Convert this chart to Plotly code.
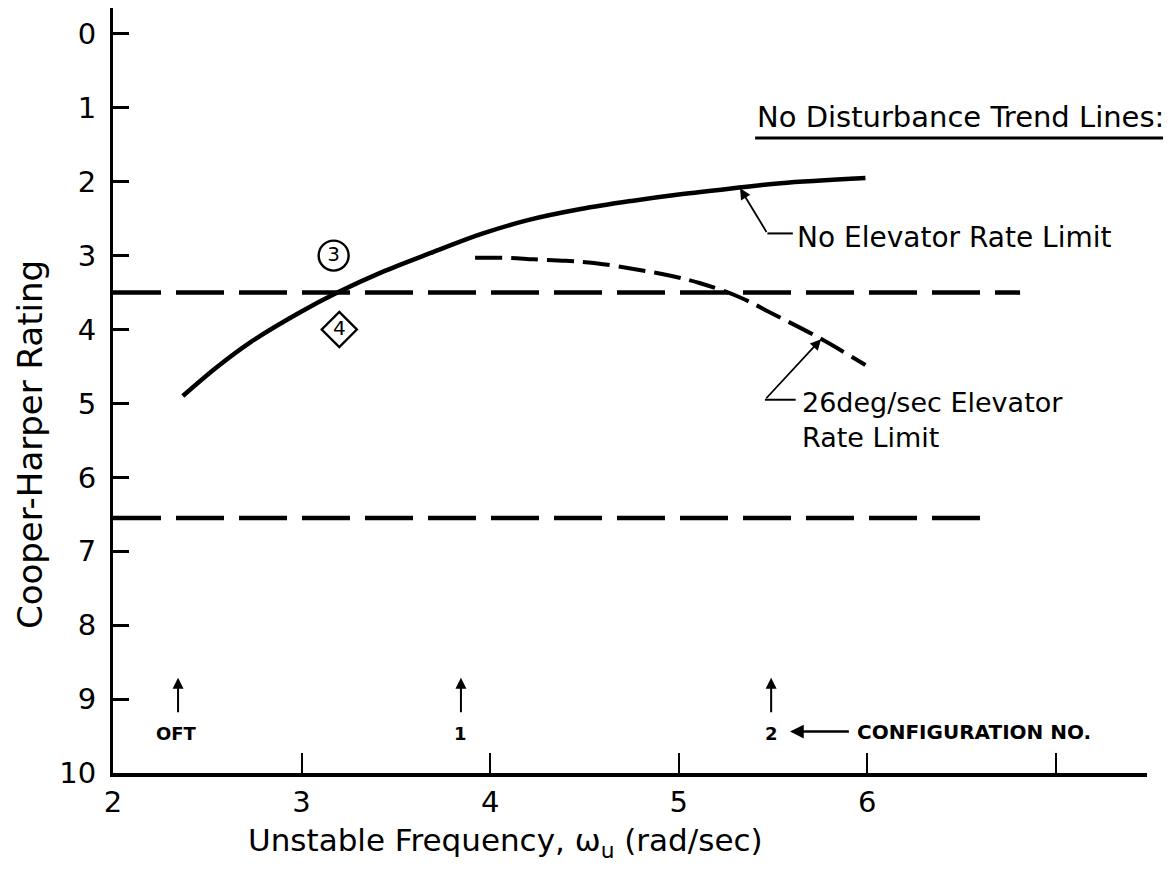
import plotly.graph_objects as go

# ---- data ----
solid_x = [2.37, 2.55, 2.73, 2.99, 3.19, 3.42, 3.70, 3.95, 4.20, 4.48, 4.75, 5.01, 5.32, 5.54, 5.99]
solid_y = [4.90, 4.51, 4.17, 3.77, 3.50, 3.23, 2.95, 2.71, 2.52, 2.37, 2.26, 2.17, 2.08, 2.02, 1.95]

rate_x = [3.92, 4.10, 4.23, 4.40, 4.55, 4.76, 4.95, 5.11, 5.32, 5.50, 5.75, 5.99]
rate_y = [3.03, 3.03, 3.05, 3.07, 3.10, 3.18, 3.27, 3.37, 3.56, 3.79, 4.12, 4.48]

boundary_levels = [3.5, 6.55]
boundary_ends = [6.81, 6.61]

pilot_x = [3.17, 3.20]
pilot_y = [3.0, 4.0]
pilot_labels = ["3", "4"]
pilot_symbols = ["circle-open", "diamond-open"]

config_x = [2.335, 3.845, 5.49]
config_labels = ["OFT", "1", "2"]

x_ticks = [2, 3, 4, 5, 6, 7]
x_ticktext = ["2", "3", "4", "5", "6", ""]
y_ticks = list(range(0, 11))

FONT = "DejaVu Sans"
fig = go.Figure()

# boundary dashed lines
for lvl, xe in zip(boundary_levels, boundary_ends):
    fig.add_trace(go.Scatter(x=[2, xe], y=[lvl, lvl], mode="lines",
                             line=dict(color="black", width=4.5, dash="48px,15px"),
                             showlegend=False, hoverinfo="skip"))

fig.add_trace(go.Scatter(x=solid_x, y=solid_y, mode="lines",
                         line=dict(color="black", width=4.5, shape="spline", smoothing=1.0),
                         showlegend=False))
fig.add_trace(go.Scatter(x=rate_x, y=rate_y, mode="lines",
                         line=dict(color="black", width=4, shape="spline", dash="27px,9px"),
                         showlegend=False))

for px_, py_, lab, sym in zip(pilot_x, pilot_y, pilot_labels, pilot_symbols):
    fig.add_trace(go.Scatter(x=[px_], y=[py_], mode="markers+text", text=[lab],
                             textposition="middle center",
                             textfont=dict(family=FONT, size=20, color="black"),
                             marker=dict(symbol=sym, size=30 if sym.startswith("circle") else 27,
                                         color="black", line=dict(width=2.4, color="black")),
                             showlegend=False))

annotations = []
# configuration arrows and labels
for cx, cl in zip(config_x, config_labels):
    annotations.append(dict(x=cx + (0.01 if cl == "OFT" else 0), y=8.71, xref="x", yref="y", text="",
                            showarrow=True, ax=0, ay=36, arrowhead=2, arrowsize=1.1,
                            arrowwidth=2, arrowcolor="black"))
    annotations.append(dict(x=cx, y=9.46, xref="x", yref="y", text="<b>%s</b>" % cl,
                            showarrow=False, font=dict(family=FONT, size=18, color="black")))
annotations.append(dict(x=5.59, y=9.44, xref="x", yref="y", text="", showarrow=True,
                        ax=5.91, ay=9.44, axref="x", ayref="y", arrowhead=2, arrowsize=1.1,
                        arrowwidth=2.5, arrowcolor="black"))
annotations.append(dict(x=5.935, y=9.44, xref="x", yref="y", text="<b>CONFIGURATION NO.</b>",
                        xanchor="left", showarrow=False,
                        font=dict(family=FONT, size=20, color="black")))

# trend line labels
annotations.append(dict(x=0.621, y=1.125, xref="paper", yref="y", text="No Disturbance Trend Lines:",
                        xanchor="left", yanchor="middle", showarrow=False,
                        font=dict(family=FONT, size=29, color="black")))
annotations.append(dict(x=5.616, y=2.75, xref="x", yref="y", text="No Elevator Rate Limit",
                        xanchor="left", yanchor="middle", showarrow=False,
                        font=dict(family=FONT, size=28, color="black")))
annotations.append(dict(x=5.325, y=2.09, xref="x", yref="y", text="", showarrow=True,
                        ax=5.47, ay=2.70, axref="x", ayref="y", arrowhead=2, arrowsize=1.2,
                        arrowwidth=1.8, arrowcolor="black"))
annotations.append(dict(x=5.643, y=5.22, xref="x", yref="y",
                        text="26deg/sec Elevator<br>Rate Limit", align="left",
                        xanchor="left", yanchor="middle", showarrow=False,
                        font=dict(family=FONT, size=27, color="black")))
annotations.append(dict(x=5.755, y=4.13, xref="x", yref="y", text="", showarrow=True,
                        ax=5.457, ay=4.95, axref="x", ayref="y", arrowhead=2, arrowsize=1.2,
                        arrowwidth=1.8, arrowcolor="black"))

# axis titles
annotations.append(dict(x=0.380, y=-0.0915, xref="paper", yref="paper",
                        text="Unstable Frequency, ω<sub>u</sub> (rad/sec)",
                        showarrow=False, xanchor="center", yanchor="middle",
                        font=dict(family=FONT, size=31, color="black")))
annotations.append(dict(x=-0.080, y=0.429, xref="paper", yref="paper",
                        text="Cooper-Harper Rating", textangle=-90,
                        showarrow=False, xanchor="center", yanchor="middle",
                        font=dict(family=FONT, size=34, color="black")))

shapes = [
    # underline of the heading
    dict(type="line", xref="paper", yref="paper", x0=0.621, x1=1.0155, y0=0.830, y1=0.830,
         line=dict(color="black", width=3)),
    # leader elbows
    dict(type="line", xref="x", yref="y", x0=5.47, x1=5.605, y0=2.70, y1=2.70,
         line=dict(color="black", width=2)),
    dict(type="line", xref="x", yref="y", x0=5.457, x1=5.62, y0=4.95, y1=4.95,
         line=dict(color="black", width=2)),
]

fig.update_layout(
    width=1164, height=862,
    margin=dict(l=105, r=25, t=0, b=97),
    paper_bgcolor="white", plot_bgcolor="white",
    font=dict(family=FONT, color="black"),
    annotations=annotations, shapes=shapes,
    showlegend=False,
)
fig.update_xaxes(range=[2, 7.483], tickvals=x_ticks, ticktext=x_ticktext,
                 showline=True, linecolor="black", linewidth=4,
                 ticks="inside", ticklen=20, tickwidth=2, tickcolor="black",
                 showgrid=False, zeroline=False, ticklabelstandoff=0,
                 tickfont=dict(family=FONT, size=29, color="black"))
fig.update_yaxes(range=[10, -0.35], tickvals=y_ticks,
                 showline=True, linecolor="black", linewidth=3,
                 ticks="inside", ticklen=16, tickwidth=3, tickcolor="black",
                 showgrid=False, zeroline=False, ticklabelstandoff=8,
                 tickfont=dict(family=FONT, size=29, color="black"))

fig.write_html("out.html")
